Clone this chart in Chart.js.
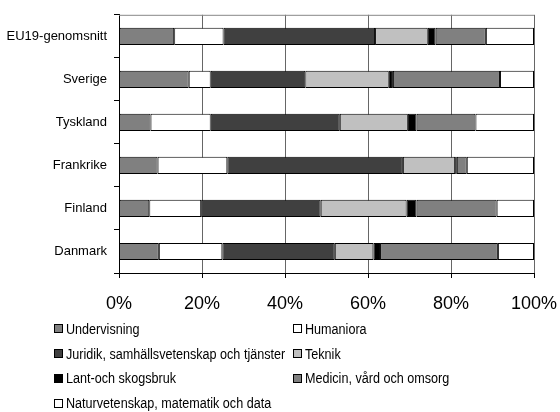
<!DOCTYPE html>
<html>
<head>
<meta charset="utf-8">
<script src="https://cdn.jsdelivr.net/npm/chart.js@4/dist/chart.umd.min.js"></script>
<style>
  body { margin: 0; background: #fff; }
  #wrap { position: relative; width: 560px; height: 412px; overflow: hidden; }
  #graf { position: absolute; left: 0; top: 0; }
  #leyenda {
    position: absolute; left: 54px; top: 316.6px; width: 500px;
    display: grid; grid-template-columns: 239px 240px; grid-auto-rows: 24.7px;
    font-family: 'Liberation Sans', Arial, sans-serif;
    font-size: 14px; color: #000;
  }
  .item { display: flex; align-items: center; white-space: nowrap; }
  .caja { width: 7px; height: 7px; border: 1px solid #000; margin-right: 3px; flex: none; }
  .texto { display: inline-block; transform: scaleX(0.9); transform-origin: 0 50%; }
</style>
</head>
<body>
<div id="wrap">
  <canvas id="graf" width="560" height="318"></canvas>
  <div id="leyenda"></div>
</div>
<script>
const paises = ['EU19-genomsnitt', 'Sverige', 'Tyskland', 'Frankrike', 'Finland', 'Danmark'];
const xTicks = [0, 20, 40, 60, 80, 100];

const undervisning = [13.3, 16.8, 7.6, 9.3, 7.3, 9.6];
const humaniora = [11.9, 5.3, 14.5, 16.8, 12.5, 15.3];
const juridik = [36.5, 22.8, 31.1, 42.3, 28.8, 27.1];
const teknik = [12.7, 20.1, 16.4, 12.6, 20.7, 9.3];
const lantbruk = [1.9, 1.0, 2.1, 0.4, 2.4, 1.6];
const medicin = [12.1, 25.8, 14.2, 2.4, 19.3, 28.4];
const naturvetenskap = [11.6, 8.2, 14.1, 16.2, 9.0, 8.7];

const series = [
  { label: 'Undervisning', data: undervisning, color: '#808080' },
  { label: 'Humaniora', data: humaniora, color: '#ffffff' },
  { label: 'Juridik, samhällsvetenskap och tjänster', data: juridik, color: '#404040' },
  { label: 'Teknik', data: teknik, color: '#c0c0c0' },
  { label: 'Lant-och skogsbruk', data: lantbruk, color: '#000000' },
  { label: 'Medicin, vård och omsorg', data: medicin, color: '#808080' },
  { label: 'Naturvetenskap, matematik och data', data: naturvetenskap, color: '#ffffff' }
];

// linea gris arriba del area del grafico
const bordeSuperior = {
  id: 'bordeSuperior',
  beforeDatasetsDraw(chart) {
    const { ctx, chartArea } = chart;
    ctx.save();
    ctx.strokeStyle = '#888';
    ctx.lineWidth = 1;
    ctx.beginPath();
    ctx.moveTo(chartArea.left, chartArea.top + 0.5);
    ctx.lineTo(chartArea.right, chartArea.top + 0.5);
    ctx.stroke();
    ctx.restore();
  }
};

const ctx = document.getElementById('graf').getContext('2d');
const grafico = new Chart(ctx, {
  type: 'bar',
  data: {
    labels: paises,
    datasets: series.map(s => ({
      label: s.label,
      data: s.data,
      backgroundColor: s.color,
      borderColor: '#000',
      borderWidth: 1,
      borderSkipped: false,
      barPercentage: 0.4,
      categoryPercentage: 1
    }))
  },
  options: {
    indexAxis: 'y',
    responsive: false,
    animation: false,
    devicePixelRatio: 1,
    layout: { padding: { top: 14, right: 26, left: 0, bottom: 0 } },
    plugins: { legend: { display: false }, tooltip: { enabled: false } },
    scales: {
      x: {
        stacked: true,
        min: 0,
        max: 100,
        afterBuildTicks: scale => { scale.ticks = xTicks.map(v => ({ value: v })); },
        afterFit: scale => {
          scale.height = 45;
          scale.paddingLeft = 0;
          scale.paddingRight = 0;
        },
        ticks: {
          callback: v => v + '%',
          color: '#000',
          padding: 15,
          maxRotation: 0,
          font: { family: "'Liberation Sans', Arial, sans-serif", size: 18 }
        },
        grid: { color: '#666', tickColor: '#000', tickLength: 5, lineWidth: 1 },
        border: { color: '#000', width: 1 }
      },
      y: {
        stacked: true,
        afterFit: scale => { scale.width = 119; },
        ticks: {
          color: '#000',
          padding: 7,
          font: { family: "'Liberation Sans', Arial, sans-serif", size: 13 }
        },
        grid: { drawOnChartArea: false, tickColor: '#000', tickLength: 5 },
        border: { color: '#000', width: 1 }
      }
    }
  },
  plugins: [bordeSuperior]
});

// leyenda en dos columnas, como en el original
const leyenda = document.getElementById('leyenda');
series.forEach(s => {
  const item = document.createElement('div');
  item.className = 'item';
  const caja = document.createElement('span');
  caja.className = 'caja';
  caja.style.background = s.color;
  const texto = document.createElement('span');
  texto.className = 'texto';
  texto.textContent = s.label;
  item.appendChild(caja);
  item.appendChild(texto);
  leyenda.appendChild(item);
});
</script>
</body>
</html>
